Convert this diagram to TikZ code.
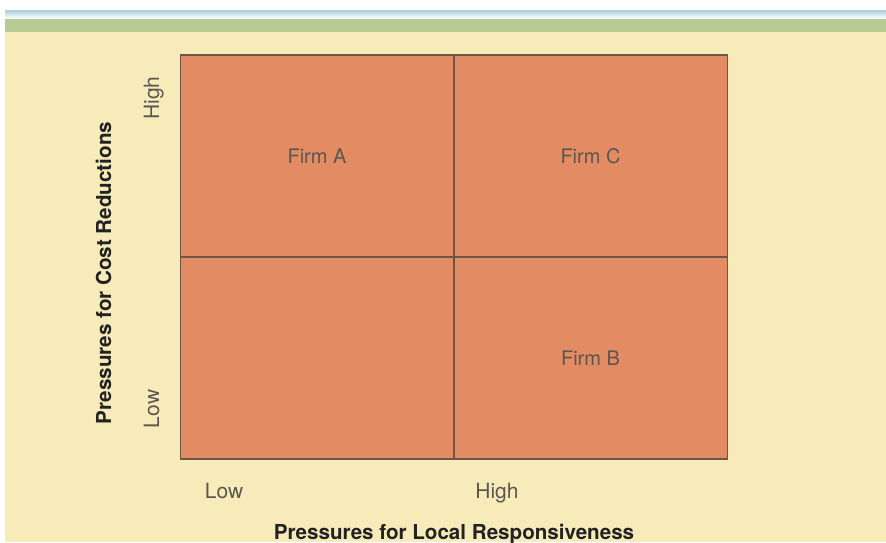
\documentclass[tikz,border=0pt]{standalone}
\usepackage{fontspec}
\setmainfont{TeX Gyre Heros}
\usepackage{xcolor}
\usepackage{tikz}
\usetikzlibrary{positioning}
\definecolor{cream}{HTML}{F7EBB9}
\definecolor{quad}{HTML}{E38B63}
\definecolor{gridline}{HTML}{6E5646}
\definecolor{band}{HTML}{B8CB93}
\definecolor{sky}{HTML}{A9CBDF}
\definecolor{ticktext}{HTML}{5A5650}
\definecolor{axistext}{HTML}{222222}

\begin{document}
\begin{tikzpicture}[
    x=1pt, y=-1pt,
    cell/.style={rectangle, fill=quad, minimum width=273.5pt, minimum height=202pt, outer sep=0pt, inner sep=0pt, text=ticktext, font=\fontsize{20}{24}\selectfont},
    tick/.style={anchor=base, text=ticktext, font=\fontsize{21}{25}\selectfont},
    axis/.style={anchor=base, text=axistext, font=\fontsize{20.6}{24}\selectfont\bfseries},
    gridline/.style={draw=gridline, line width=1.5pt}
  ]

    % page and header bands
    \fill[white] (0,0) rectangle (886,542);
    \useasboundingbox (0,0) rectangle (886,542);
    \shade[top color=sky, bottom color=white] (5,10) rectangle (886,18);
    \fill[band] (5,19) rectangle (886,32);
    \fill[cream] (5,32) rectangle (886,542);

    % the four quadrants
    \node[cell] (firma) at (317,156) {Firm A};
    \node[cell, right=0pt of firma] (firmc) {Firm C};
    \node[cell, below=0pt of firma] (empty) {};
    \node[cell, right=0pt of empty] (firmb) {Firm B};

    \draw[gridline] (firma.north west) rectangle (firmb.south east);
    \draw[gridline] (firma.north east) -- (firmb.south west);
    \draw[gridline] (firma.south west) -- (firmc.south east);

    % axis labels
    \node[tick, rotate=90] (yhigh) at (159,98) {High};
    \node[tick, rotate=90] (ylow) at (159,409) {Low};
    \node[tick] (xlow) at (224,498) {Low};
    \node[tick] (xhigh) at (497,498) {High};

    \node[axis, rotate=90] (yaxis) at (111,273) {Pressures for Cost Reductions};
    \node[axis] (xaxis) at (454,539) {Pressures for Local Responsiveness};

  \end{tikzpicture}
\end{document}
